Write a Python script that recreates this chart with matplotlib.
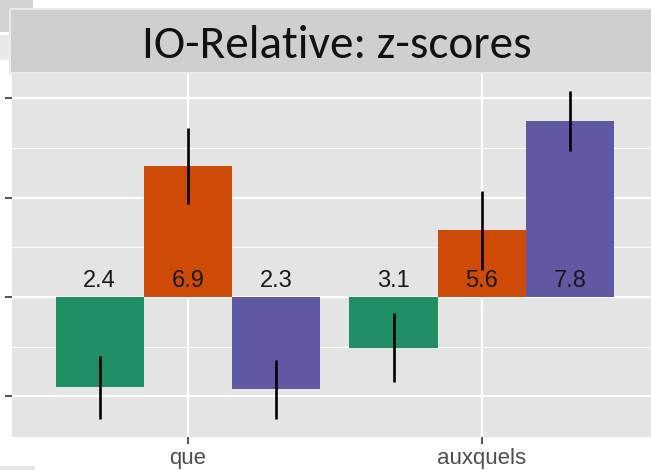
import matplotlib
matplotlib.use("Agg")
import matplotlib.pyplot as plt
from matplotlib.patches import Rectangle
from matplotlib import font_manager
import numpy as np

# ---- data ----
categories = ["que", "auxquels"]
series_names = ["A", "B", "C"]
values_green = [-0.91, -0.51]
values_orange = [1.32, 0.67]
values_purple = [-0.93, 1.77]
err_green = [0.32, 0.35]
err_orange = [0.38, 0.40]
err_purple = [0.30, 0.30]
labels_green = ["2.4", "3.1"]
labels_orange = ["6.9", "5.6"]
labels_purple = ["2.3", "7.8"]
title = "IO-Relative: z-scores"

colors = ["#1F8E65", "#CD4B07", "#6158A4"]

names = {f.name for f in font_manager.fontManager.ttflist}
title_family, title_size = "Lato", 29
for fam, size in [("Carlito", 34), ("PT Sans Narrow", 33), ("Open Sans Condensed", 32)]:
    if fam in names:
        title_family, title_size = fam, size
        break

W, H = 651, 470
fig = plt.figure(figsize=(W / 100, H / 100), dpi=100)
fig.patch.set_facecolor("white")

# slide artifacts
fig.patches.append(Rectangle((0, 1 - 32 / H), 33 / W, 32 / H, transform=fig.transFigure,
                             facecolor="#D3D1D1", edgecolor="none", zorder=0))
fig.patches.append(Rectangle((0, 1 - 60 / H), 11 / W, 25 / H, transform=fig.transFigure,
                             facecolor="#E9E9E9", edgecolor="none", zorder=0))
fig.patches.append(Rectangle((0, 0), 35 / W, 4 / H, transform=fig.transFigure,
                             facecolor="#E6E6E6", edgecolor="none", zorder=0))

# title banner
fig.patches.append(Rectangle((9 / W, 1 - 74 / H), (W - 9) / W, 66 / H, transform=fig.transFigure,
                             facecolor="#EAEAEA", edgecolor="none", zorder=1))
fig.patches.append(Rectangle((11 / W, 1 - 72 / H), (W - 11) / W, 62 / H, transform=fig.transFigure,
                             facecolor="#D0CECE", edgecolor="none", zorder=2))
fig.text(336.5 / W, 1 - 58 / H, title, ha="center", va="baseline", fontsize=title_size,
         family=title_family, color="#111111", zorder=3)

# panel
left_px, right_px, top_px, bottom_px = 11.6, 658.0, 74.0, 437.0
ax = fig.add_axes([left_px / W, 1 - bottom_px / H, (right_px - left_px) / W, (bottom_px - top_px) / H])
ax.set_facecolor("#E4E4E4")
for s in ax.spines.values():
    s.set_visible(False)

x = np.arange(1, len(categories) + 1)
width = 0.3
all_vals = [values_green, values_orange, values_purple]
all_errs = [err_green, err_orange, err_purple]
all_labels = [labels_green, labels_orange, labels_purple]
offsets = [-width, 0, width]

for vals, errs, labs, off, col in zip(all_vals, all_errs, all_labels, offsets, colors):
    ax.bar(x + off, vals, width=width, color=col, edgecolor="none", zorder=2)
    ax.errorbar(x + off, vals, yerr=errs, fmt="none", ecolor="black", elinewidth=1.9,
                capsize=0, zorder=3)
    for xi, lab in zip(x + off, labs):
        ax.annotate(lab, (xi, 0), xytext=(0, 7.2), textcoords="offset points",
                    ha="center", va="baseline", fontsize=17, family="Liberation Sans",
                    color="#1A1A1A", zorder=4)

ax.set_xlim(0.4, 2.6)
ax.set_ylim(-1.41, 2.245)
ax.set_yticks([-1, 0, 1, 2])
ax.set_yticks([-0.5, 0.5, 1.5], minor=True)
ax.set_yticklabels([])
ax.set_xticks(x)
ax.set_xticklabels(categories, fontsize=16, family="Liberation Sans", color="#4D4D4D")
ax.tick_params(axis="y", which="major", length=5, width=1.2, color="#333333", direction="out")
ax.tick_params(axis="y", which="minor", length=0)
ax.tick_params(axis="x", length=5, width=1.2, color="#333333", pad=3)
ax.grid(True, which="major", color="white", linewidth=1.6, zorder=0)
ax.grid(True, which="minor", axis="y", color="white", linewidth=0.8, zorder=0)
ax.set_axisbelow(True)

fig.savefig("out.png", dpi=100)
